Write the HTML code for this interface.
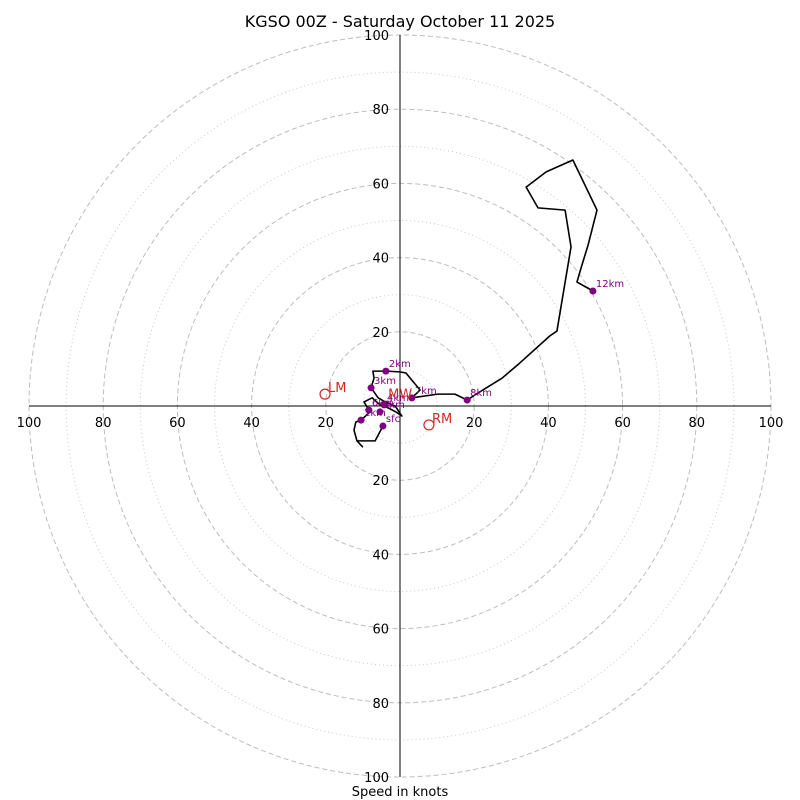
<!DOCTYPE html>
<html><head><meta charset="utf-8"><style>
body{margin:0;background:#fff}
svg{display:block;font-family:"DejaVu Sans","Liberation Sans",sans-serif}
</style></head><body>
<svg id="c" width="800" height="800" viewBox="0 0 800 800">
<text x="400" y="27" text-anchor="middle" font-size="16">KGSO 00Z - Saturday October 11 2025</text>
<text x="400" y="796" text-anchor="middle" font-size="13">Speed in knots</text>
</svg>
<script>
const ringMajor=[20,40,60,80,100];
const ringMinor=[10,30,50,70,90];
const tickLabels=["20","40","60","80","100"];
const pathU=[-10.0,-11.6,-12.4,-11.9,-10.5,-8.1,-9.7,-7.5,-5.4,-3.2,-1.1,0.5,-1.3,-4.0,-5.9,-7.8,-7.0,-7.3,-3.8,0,1.6,5.4,3.2,10.2,14.8,18.1,21.0,27.5,32.3,40.4,42.3,46.1,44.5,37.2,34.0,39.4,46.6,53.1,50.7,48.8,47.7,52.0];
const pathV=[-11.1,-9.4,-6.5,-4.3,-3.8,-1.6,1.1,2.2,0.3,-0.5,-1.6,-2.7,0,1.1,2.2,4.9,7.5,9.4,9.4,9.2,8.9,4.3,2.2,3.2,3.2,1.6,3.5,7.5,11.6,18.9,20.2,42.9,52.8,53.4,59.0,63.1,66.3,52.8,43.4,37.2,33.4,31.0];
const tailU=[-11.6,-6.7,-4.6];
const tailV=[-9.4,-9.4,-5.4];
const markLabels=["sfc","1km","2km","3km","4km","5km","6km","7km","8km","12km"];
const markU=[-4.6,-10.5,-3.8,-7.8,-4.3,-5.4,-8.4,3.2,18.1,52.0];
const markV=[-5.4,-3.8,9.4,4.9,0.3,-1.6,-1.1,2.2,1.6,31.0];
const stormNames=["LM","RM","MW"];
const stormU=[-20.2,7.8,-4.0];
const stormV=[3.2,-5.1,1.5];
const cx=400,cy=406,k=3.71;
const X=u=>cx+u*k, Y=v=>cy-v*k;
const svg=document.getElementById('c');
const NS='http://www.w3.org/2000/svg';
function mk(t,a){const e=document.createElementNS(NS,t);for(const n in a)e.setAttribute(n,a[n]);svg.appendChild(e);return e;}
ringMinor.forEach(r=>{const e=mk('circle',{cx:cx,cy:cy,r:r*k,fill:'none',stroke:'#c8c8c8','stroke-dasharray':'1,3','stroke-width':1});

});
ringMajor.forEach(r=>{const e=mk('circle',{cx:cx,cy:cy,r:r*k,fill:'none',stroke:'#bdbdbd','stroke-dasharray':'5,3','stroke-width':1});

});
let a=mk('line',{x1:X(-100),y1:cy,x2:X(100),y2:cy,stroke:'#000','stroke-width':1});


a=mk('line',{x1:cx,y1:Y(100),x2:cx,y2:Y(-100),stroke:'#000','stroke-width':1});


ringMajor.forEach((r,i)=>{
 [X(-r),X(r)].forEach(x=>{const t=mk('text',{x:x,y:cy+21,'text-anchor':'middle','font-size':13});t.textContent=tickLabels[i];
 
 });
 [Y(r),Y(-r)].forEach(y=>{const t=mk('text',{x:cx-11,y:y+5,'text-anchor':'end','font-size':13});t.textContent=tickLabels[i];
 
 });
});
let p=mk('polyline',{points:pathU.map((u,i)=>X(u)+','+Y(pathV[i])).join(' '),fill:'none',stroke:'#000','stroke-width':1.6,'stroke-linejoin':'round'});


p=mk('polyline',{points:tailU.map((u,i)=>X(u)+','+Y(tailV[i])).join(' '),fill:'none',stroke:'#000','stroke-width':1.6});


markU.forEach((u,i)=>{
 const c=mk('circle',{cx:X(u),cy:Y(markV[i]),r:3.5,fill:'#800080'});
 
 
 const t=mk('text',{x:X(u)+3,y:Y(markV[i])-4,'font-size':10,fill:'#800080'});t.textContent=markLabels[i];
 
 
});
stormNames.forEach((n,i)=>{
 if(n!=='MW'){const c=mk('circle',{cx:X(stormU[i]),cy:Y(stormV[i]),r:5,fill:'none',stroke:'#d62728','stroke-width':1.2});
 
 }
 const t=mk('text',{x:X(stormU[i])+3,y:Y(stormV[i])-2,'font-size':13,fill:'#d62728'});t.textContent=n;
 
 
});
</script>
</body></html>
